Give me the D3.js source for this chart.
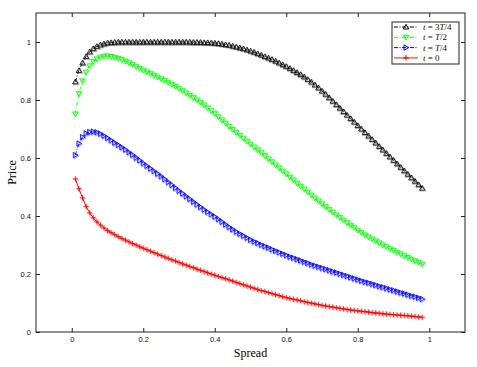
<!DOCTYPE html>
<html>
<head>
<meta charset="utf-8">
<script src="https://cdn.jsdelivr.net/npm/d3@7"></script>
<style>
  html, body { margin: 0; padding: 0; background: #fff; }
  svg { display: block; }
</style>
</head>
<body>
<svg id="chart" width="477" height="367"></svg>
<script>
// ---- data ----
const spread = d3.range(1, 99).map(i => +(i / 100).toFixed(2)); // 0.01 .. 0.98 (x positions of samples)

const price3T4 = [
  0.863, 0.902, 0.928, 0.950, 0.966, 0.977, 0.985, 0.990, 0.994, 0.997,
  0.998, 0.999, 1.000, 1.000, 1.000, 1.000, 1.000, 1.000, 1.000, 1.000,
  1.000, 1.000, 1.000, 1.000, 1.000, 1.000, 1.000, 1.000, 1.000, 1.000,
  1.000, 1.000, 1.000, 0.999, 0.999, 0.999, 0.998, 0.998, 0.997, 0.996,
  0.995, 0.993, 0.991, 0.989, 0.986, 0.983, 0.980, 0.977, 0.973, 0.969,
  0.965, 0.960, 0.955, 0.950, 0.945, 0.940, 0.934, 0.928, 0.922, 0.916,
  0.909, 0.902, 0.895, 0.888, 0.880, 0.871, 0.862, 0.852, 0.842, 0.831,
  0.820, 0.808, 0.796, 0.784, 0.772, 0.760, 0.748, 0.736, 0.724, 0.712,
  0.700, 0.688, 0.676, 0.664, 0.652, 0.640, 0.628, 0.616, 0.604, 0.592,
  0.580, 0.568, 0.556, 0.544, 0.532, 0.520, 0.508, 0.496
];

const priceT2 = [
  0.752, 0.822, 0.866, 0.896, 0.918, 0.933, 0.942, 0.948, 0.951, 0.952,
  0.950, 0.947, 0.943, 0.939, 0.934, 0.928, 0.922, 0.915, 0.909, 0.903,
  0.897, 0.891, 0.885, 0.879, 0.873, 0.867, 0.861, 0.854, 0.847, 0.840,
  0.832, 0.824, 0.816, 0.808, 0.800, 0.792, 0.783, 0.773, 0.763, 0.753,
  0.742, 0.731, 0.720, 0.709, 0.698, 0.688, 0.678, 0.668, 0.658, 0.648,
  0.638, 0.628, 0.618, 0.608, 0.597, 0.587, 0.576, 0.566, 0.555, 0.545,
  0.534, 0.524, 0.513, 0.503, 0.493, 0.483, 0.472, 0.462, 0.452, 0.442,
  0.432, 0.422, 0.413, 0.404, 0.395, 0.386, 0.377, 0.368, 0.360, 0.351,
  0.343, 0.335, 0.328, 0.321, 0.314, 0.307, 0.300, 0.294, 0.287, 0.281,
  0.275, 0.269, 0.263, 0.257, 0.251, 0.245, 0.240, 0.234
];

const priceT4 = [
  0.610, 0.650, 0.672, 0.685, 0.690, 0.691, 0.689, 0.684, 0.677, 0.669,
  0.661, 0.653, 0.645, 0.637, 0.629, 0.620, 0.611, 0.601, 0.592, 0.582,
  0.573, 0.564, 0.555, 0.546, 0.537, 0.527, 0.517, 0.507, 0.497, 0.487,
  0.478, 0.468, 0.459, 0.449, 0.440, 0.431, 0.422, 0.414, 0.406, 0.398,
  0.389, 0.380, 0.371, 0.362, 0.354, 0.346, 0.339, 0.332, 0.325, 0.318,
  0.312, 0.307, 0.301, 0.296, 0.291, 0.285, 0.280, 0.275, 0.270, 0.265,
  0.260, 0.256, 0.251, 0.247, 0.242, 0.238, 0.233, 0.229, 0.225, 0.221,
  0.217, 0.213, 0.209, 0.205, 0.201, 0.197, 0.193, 0.189, 0.185, 0.181,
  0.177, 0.173, 0.170, 0.166, 0.162, 0.158, 0.155, 0.151, 0.147, 0.144,
  0.140, 0.136, 0.133, 0.129, 0.125, 0.122, 0.118, 0.114
];

const price0 = [
  0.528, 0.494, 0.463, 0.433, 0.411, 0.394, 0.380, 0.369, 0.359, 0.350,
  0.343, 0.336, 0.329, 0.323, 0.317, 0.311, 0.305, 0.300, 0.294, 0.289,
  0.284, 0.279, 0.274, 0.269, 0.264, 0.259, 0.254, 0.249, 0.245, 0.240,
  0.235, 0.231, 0.226, 0.222, 0.217, 0.213, 0.209, 0.204, 0.200, 0.196,
  0.192, 0.188, 0.184, 0.180, 0.176, 0.171, 0.167, 0.163, 0.159, 0.155,
  0.151, 0.147, 0.143, 0.140, 0.136, 0.133, 0.129, 0.126, 0.122, 0.119,
  0.116, 0.113, 0.111, 0.108, 0.105, 0.102, 0.100, 0.097, 0.095, 0.092,
  0.090, 0.088, 0.086, 0.084, 0.082, 0.080, 0.078, 0.076, 0.075, 0.073,
  0.072, 0.070, 0.069, 0.067, 0.066, 0.065, 0.063, 0.062, 0.061, 0.060,
  0.059, 0.058, 0.057, 0.056, 0.055, 0.054, 0.052, 0.051
];

const xTicks = [0, 0.2, 0.4, 0.6, 0.8, 1];
const yTicks = [0, 0.2, 0.4, 0.6, 0.8, 1];
const xLabel = "Spread";
const yLabel = "Price";

// series: label parts [text, italic?]
const series = [
  { name: "3T/4", values: price3T4, color: "#000000", marker: "up",    dash: "4,1.5,1,1.5",
    label: [["t", true], [" = 3", false], ["T", true], ["/4", false]] },
  { name: "T/2",  values: priceT2,  color: "#00ff00", marker: "down",  dash: "4,1.5,1,1.5",
    label: [["t", true], [" = ", false], ["T", true], ["/2", false]] },
  { name: "T/4",  values: priceT4,  color: "#0000ff", marker: "right", dash: "4,1.5,1,1.5",
    label: [["t", true], [" = ", false], ["T", true], ["/4", false]] },
  { name: "0",    values: price0,   color: "#ff0000", marker: "plus",  dash: null,
    label: [["t", true], [" = 0", false]] }
];

// ---- layout ----
const W = 477, H = 367;
const margin = { left: 36, right: 12, top: 13, bottom: 35 };
const iw = W - margin.left - margin.right;
const ih = H - margin.top - margin.bottom;

const svg = d3.select("#chart");
const g = svg.append("g").attr("transform", `translate(${margin.left},${margin.top})`);

const x = d3.scaleLinear().domain([-0.1, 1.1]).range([0, iw]);
const y = d3.scaleLinear().domain([0, 1.1]).range([ih, 0]);

const tickFont = "'Liberation Sans', Arial, sans-serif";
const serif = "'Liberation Serif', 'Times New Roman', serif";

// axes
const fmt = d => d === 0 ? "0" : d === 1 ? "1" : d3.format(".1f")(d);
const axB = g.append("g").attr("transform", `translate(0,${ih})`)
  .call(d3.axisBottom(x).tickValues(xTicks).tickFormat(fmt).tickSizeInner(-4).tickSizeOuter(0).tickPadding(5));
const axT = g.append("g")
  .call(d3.axisTop(x).tickValues(xTicks).tickFormat("").tickSizeInner(-4).tickSizeOuter(0));
const axL = g.append("g")
  .call(d3.axisLeft(y).tickValues(yTicks).tickFormat(fmt).tickSizeInner(-4).tickSizeOuter(0).tickPadding(5));
const axR = g.append("g").attr("transform", `translate(${iw},0)`)
  .call(d3.axisRight(y).tickValues(yTicks).tickFormat("").tickSizeInner(-4).tickSizeOuter(0));

[axB, axT, axL, axR].forEach(a => {
  a.selectAll(".domain").remove();
  a.selectAll("line").attr("stroke", "#222").attr("stroke-width", 1);
  a.selectAll("text").attr("font-family", tickFont).attr("font-size", 7.5).attr("fill", "#111");
});

g.append("rect").attr("x", 0).attr("y", 0).attr("width", iw).attr("height", ih)
  .attr("fill", "none").attr("stroke", "#222").attr("stroke-width", 1);

// axis titles
svg.append("text").attr("x", margin.left + x(0.5)).attr("y", 357)
  .attr("text-anchor", "middle").attr("font-family", serif).attr("font-size", 12).text(xLabel);
svg.append("text").attr("transform", `translate(16,${margin.top + y(0.55)}) rotate(-90)`)
  .attr("text-anchor", "middle").attr("font-family", serif).attr("font-size", 12).text(yLabel);

// markers
function markerPath(type) {
  const s = 2.7;
  switch (type) {
    case "up":    return `M0,${-s}L${s},${s*0.75}L${-s},${s*0.75}Z`;
    case "down":  return `M0,${s}L${s},${-s*0.75}L${-s},${-s*0.75}Z`;
    case "right": return `M${s},0L${-s*0.75},${s}L${-s*0.75},${-s}Z`;
    case "plus":  return `M${-s},0L${s},0M0,${-s}L0,${s}`;
  }
}

const line = d3.line().x(d => x(d[0])).y(d => y(d[1]));

series.forEach(s => {
  const pts = spread.map((sx, i) => [sx, s.values[i]]);
  const sg = g.append("g");
  sg.append("path").datum(pts).attr("d", line)
    .attr("fill", "none").attr("stroke", s.color).attr("stroke-width", s.marker === "plus" ? 1 : 0.8)
    .attr("stroke-dasharray", s.dash);
  // light shadow copy of markers
  sg.selectAll("path.ghost").data(pts).join("path").attr("class", "ghost")
    .attr("d", markerPath(s.marker))
    .attr("transform", d => `translate(${x(d[0]) + 0.8},${y(d[1]) + 0.8})`)
    .attr("fill", "none").attr("stroke", s.color).attr("stroke-opacity", 0.3).attr("stroke-width", 1.2);
  sg.selectAll("path.mk").data(pts).join("path").attr("class", "mk")
    .attr("d", markerPath(s.marker))
    .attr("transform", d => `translate(${x(d[0])},${y(d[1])})`)
    .attr("fill", "none").attr("stroke", s.color).attr("stroke-width", 0.8);
});

// legend
const lg = svg.append("g").attr("transform", "translate(392,22)");
lg.append("rect").attr("width", 67).attr("height", 42)
  .attr("fill", "#fff").attr("stroke", "#222").attr("stroke-width", 1);
series.forEach((s, i) => {
  const ly = 5 + i * 10.3;
  lg.append("line").attr("x1", 2).attr("x2", 26).attr("y1", ly).attr("y2", ly)
    .attr("stroke", s.color).attr("stroke-width", s.marker === "plus" ? 1.6 : 1)
    .attr("stroke-opacity", s.marker === "plus" ? 0.6 : 1)
    .attr("stroke-dasharray", s.dash);
  lg.append("path").attr("d", markerPath(s.marker))
    .attr("transform", `translate(14,${ly})`)
    .attr("fill", "none").attr("stroke", s.color).attr("stroke-width", 1);
  const t = lg.append("text").attr("x", 31).attr("y", ly + 3)
    .attr("font-family", serif).attr("font-size", 9).attr("fill", "#111");
  s.label.forEach(([txt, it]) => {
    t.append("tspan").attr("font-style", it ? "italic" : "normal").text(txt);
  });
});
</script>
</body>
</html>
